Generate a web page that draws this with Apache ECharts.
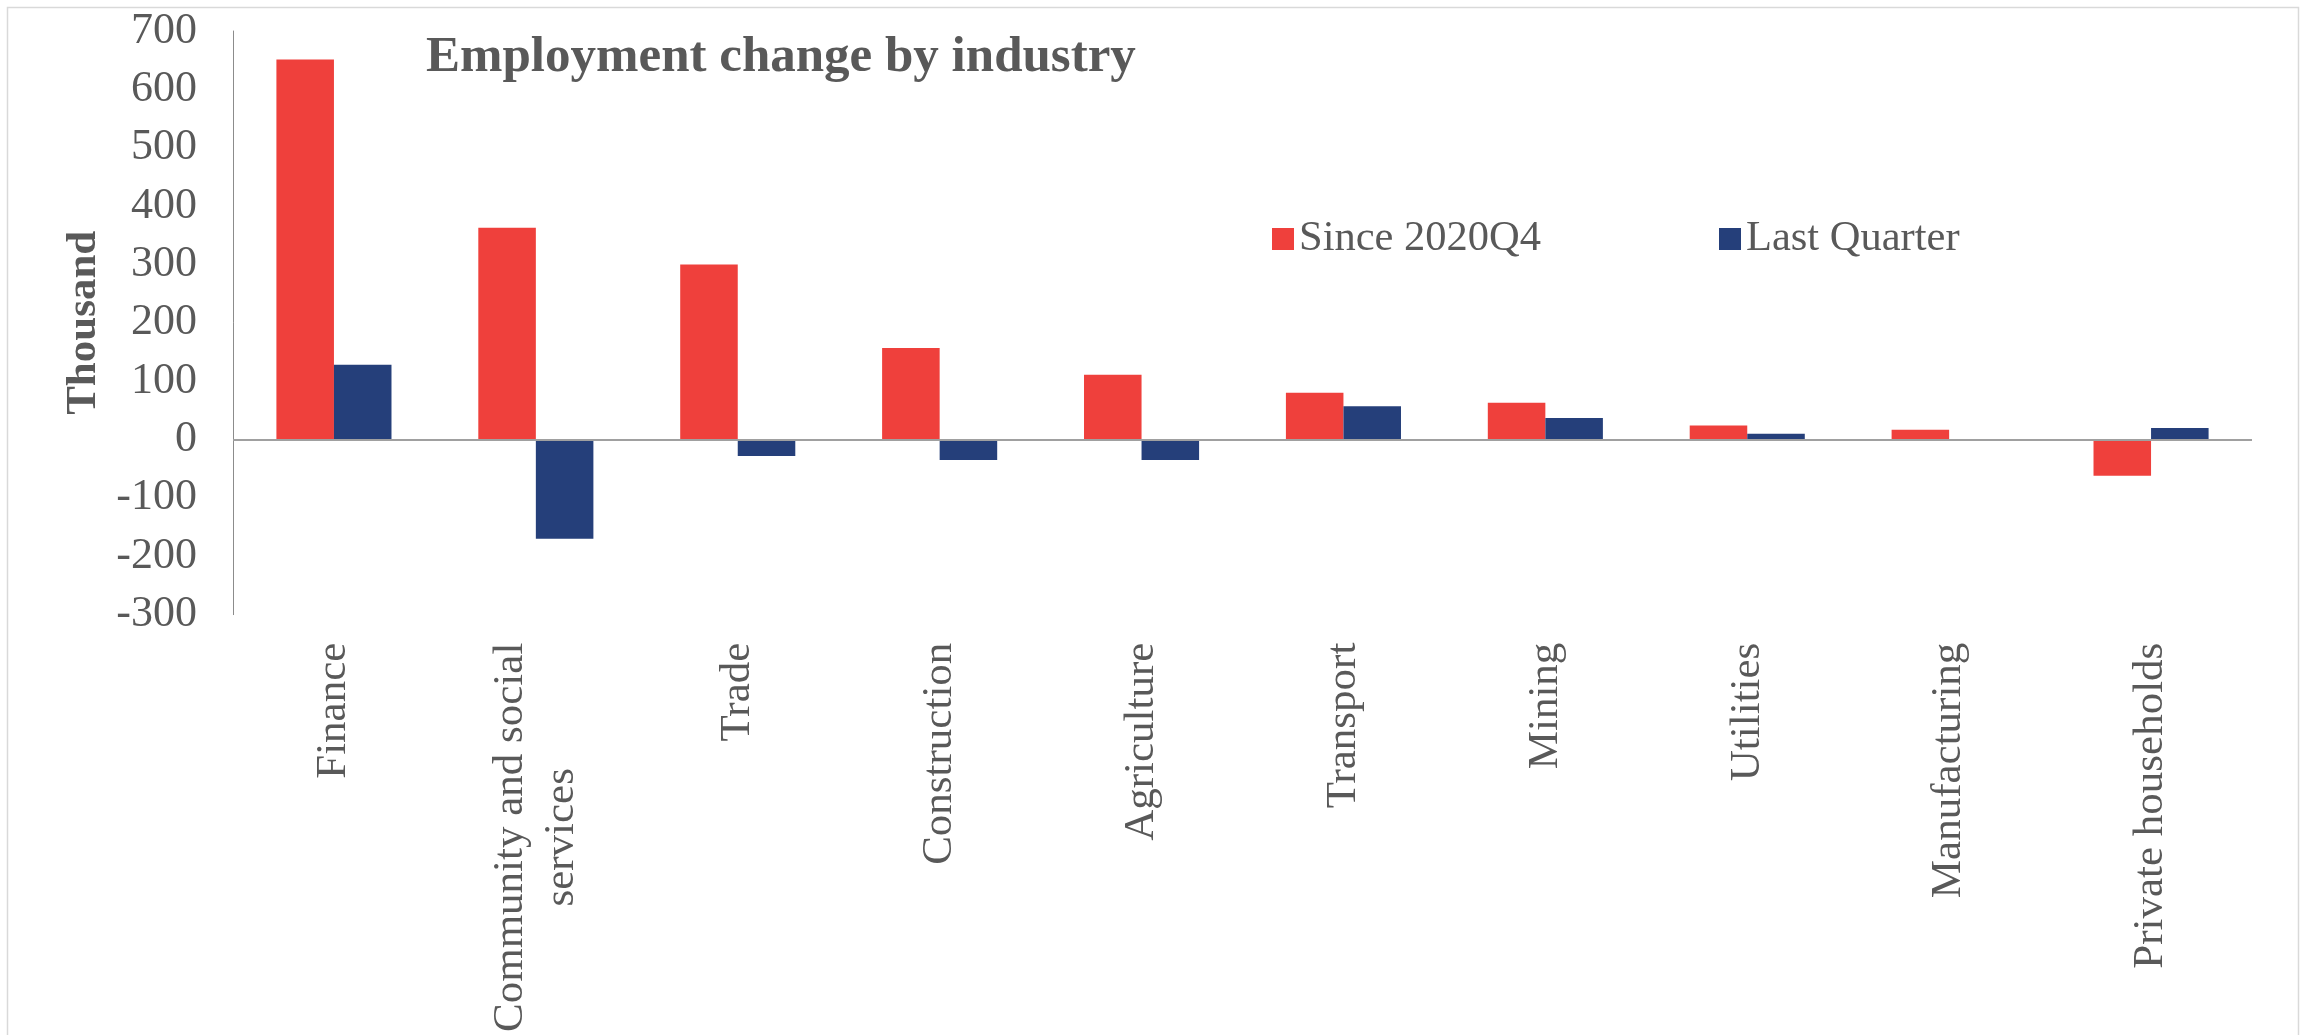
<!DOCTYPE html>
<html>
<head>
<meta charset="utf-8">
<title>Employment change by industry</title>
<script src="https://cdn.jsdelivr.net/npm/echarts@6/dist/echarts.min.js"></script>
<style>
  html, body { margin: 0; padding: 0; background: #ffffff; }
  #chart { width: 2305px; height: 1035px; }
</style>
</head>
<body>
<div id="chart"></div>
<script>
// Industries, ordered by change since 2020Q4
const categories = [
  'Finance',
  'Community and social\nservices',
  'Trade',
  'Construction',
  'Agriculture',
  'Transport',
  'Mining',
  'Utilities',
  'Manufacturing',
  'Private households'
];

// Employment change, thousands
const sinceQ4 = [651, 363, 300, 157, 111, 80, 63, 24, 17, -62];
const lastQuarter = [128, -170, -28, -35, -35, 57, 37, 10, 0, 20];

const seriesNames = ['Since 2020Q4', 'Last Quarter'];

// Value axis range and step
const yMin = -300;
const yMax = 700;
const yStep = 100;

const FONT = '"Liberation Serif", "Times New Roman", serif';
const TEXT = '#595959';
const RED = '#EF403C';
const BLUE = '#253F7A';

const chart = echarts.init(document.getElementById('chart'), null, { renderer: 'canvas' });

chart.setOption({
  backgroundColor: '#ffffff',
  animation: false,
  title: {
    text: 'Employment change by industry',
    left: 421,
    top: 27,
    textStyle: {
      fontFamily: FONT,
      fontWeight: 'bold',
      fontSize: 51,
      color: TEXT
    }
  },
  legend: {
    data: seriesNames,
    left: 1267,
    top: 212,
    icon: 'rect',
    itemWidth: 22,
    itemHeight: 22,
    itemGap: 178,
    textStyle: {
      fontFamily: FONT,
      fontSize: 42.5,
      lineHeight: 44,
      color: TEXT,
      padding: [0, 0, 0, 0]
    }
  },
  graphic: [{
    type: 'rect',
    silent: true,
    shape: { x: 7.5, y: 7.5, width: 2291, height: 1040 },
    style: { fill: 'none', stroke: '#d9d9d9', lineWidth: 1.5 }
  }],
  grid: {
    left: 233,
    right: 53,
    top: 31,
    bottom: 411,
    containLabel: false
  },
  xAxis: {
    type: 'category',
    data: categories,
    axisLine: { show: false, onZero: false },
    axisTick: { show: false },
    splitLine: { show: false },
    axisLabel: {
      interval: 0,
      rotate: 90,
      margin: 28,
      fontFamily: FONT,
      fontSize: 43,
      color: TEXT,
      formatter: function (value) {
        return value.split('\n').map(function (line) { return '{c|' + line + '}'; }).join('\n');
      },
      rich: {
        c: {
          fontFamily: FONT,
          fontSize: 43,
          lineHeight: 51,
          color: TEXT,
          align: 'center'
        }
      }
    }
  },
  yAxis: {
    type: 'value',
    min: yMin,
    max: yMax,
    interval: yStep,
    name: 'Thousand',
    nameLocation: 'middle',
    nameRotate: 90,
    nameGap: 124,
    nameTextStyle: {
      fontFamily: FONT,
      fontWeight: 'bold',
      fontSize: 43,
      color: TEXT
    },
    axisLine: { show: true, lineStyle: { color: '#8c8c8c', width: 1 } },
    axisTick: { show: false },
    splitLine: { show: false },
    axisLabel: {
      margin: 36,
      fontFamily: FONT,
      fontSize: 44,
      color: TEXT
    }
  },
  series: [
    {
      name: seriesNames[0],
      type: 'bar',
      data: sinceQ4,
      barGap: '0%',
      barCategoryGap: '43%',
      itemStyle: { color: RED },
      markLine: {
        silent: true,
        symbol: 'none',
        label: { show: false },
        lineStyle: { color: '#a0a0a0', width: 2, type: 'solid' },
        data: [{ yAxis: 0 }],
        z: 5
      }
    },
    {
      name: seriesNames[1],
      type: 'bar',
      data: lastQuarter,
      barGap: '0%',
      barCategoryGap: '43%',
      itemStyle: { color: BLUE }
    }
  ]
});
</script>
</body>
</html>
